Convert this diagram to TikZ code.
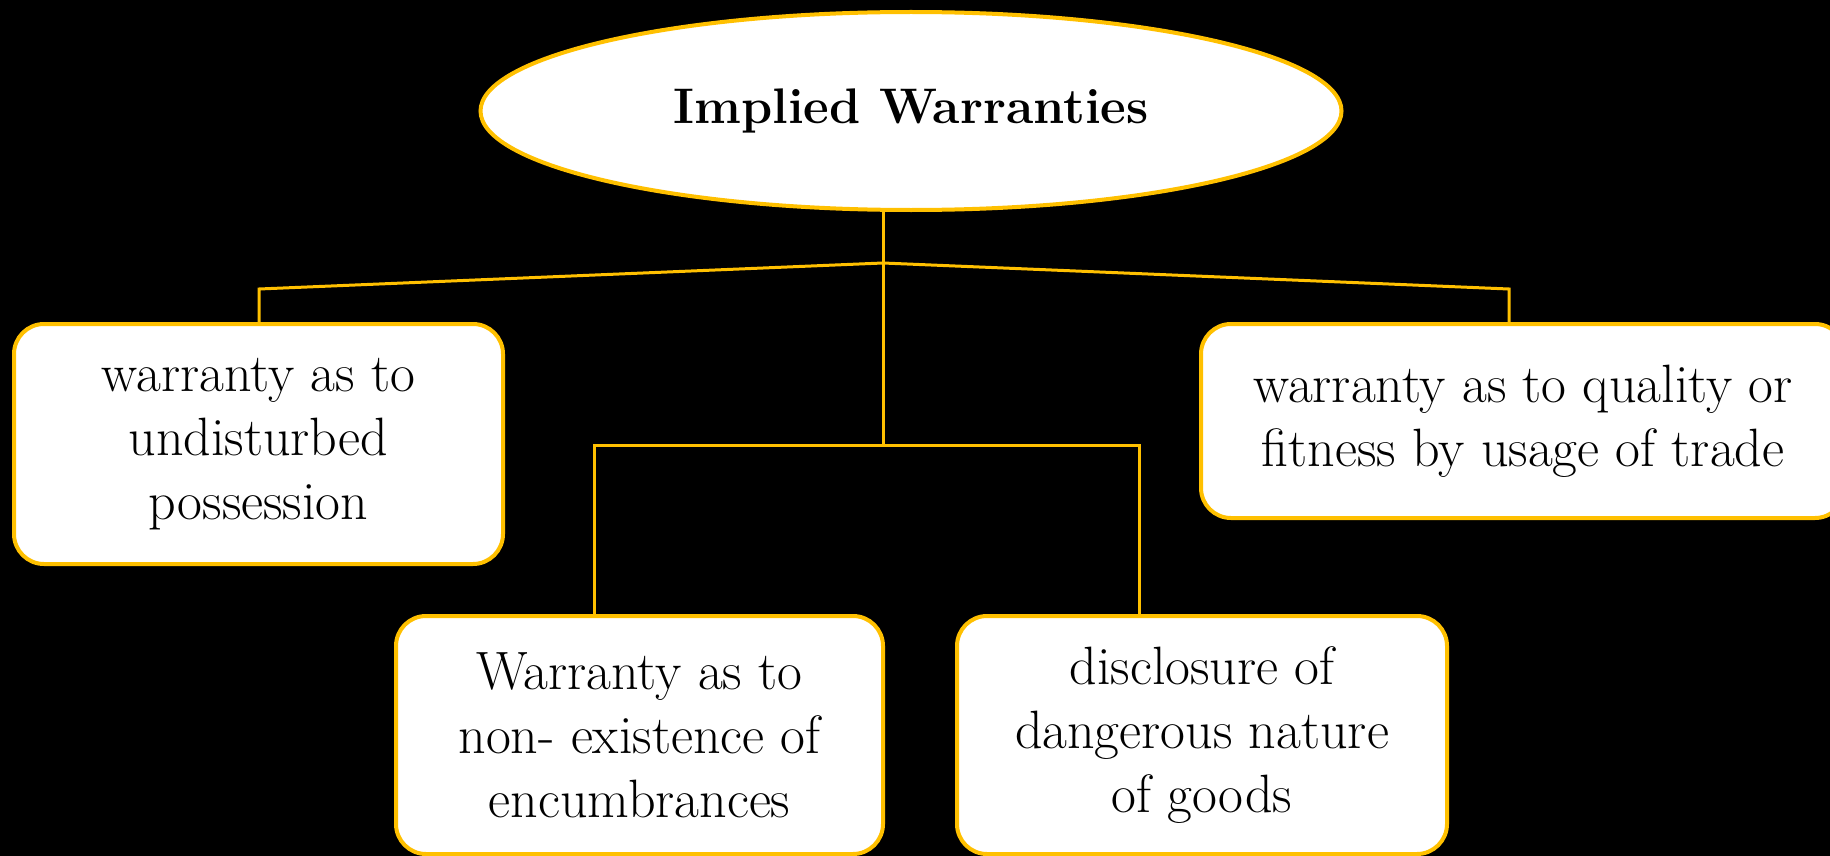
\documentclass[tikz,border=0pt]{standalone}
\usepackage{tikz}
\usepackage{xcolor}
\usetikzlibrary{shapes.geometric}
\definecolor{gold}{HTML}{FFC000}
\tikzset{
    warranty-box/.style = {draw=gold, fill=white, line width=4pt, rectangle, rounded corners=30pt, align=center, inner sep=0pt, font=\fontsize{54}{64}\selectfont},
    title-ellipse/.style = {draw=gold, fill=white, line width=4pt, ellipse, inner sep=0pt, minimum width=861pt, minimum height=198pt, font=\fontsize{50}{60}\selectfont\bfseries},
    branch/.style = {draw=gold, line width=3pt},
}

\begin{document}
\begin{tikzpicture}[x=1pt,y=-1pt]
\fill[black] (0,0) rectangle (1830,856);
\useasboundingbox (0,0) rectangle (1830,856);
\clip (0,0) rectangle (1830,856);

\node[title-ellipse] (implied) at (911,111) {Implied Warranties};
\node[warranty-box, minimum width=489pt, minimum height=240pt] (possession) at (258.5,444) {warranty as to\\undisturbed\\possession};
\node[warranty-box, minimum width=644pt, minimum height=194pt] (quality) at (1523,421) {warranty as to quality or\\fitness by usage of trade};
\node[warranty-box, minimum width=487pt, minimum height=238pt] (encumbrances) at (639.5,735) {Warranty as to\\non- existence of\\encumbrances};
\node[warranty-box, minimum width=490pt, minimum height=238pt] (dangerous) at (1202,735) {disclosure of\\dangerous nature\\of goods};

\coordinate (top-fork) at (883,263);
\coordinate (low-fork) at (883,445);
\coordinate (left-end) at (259,289);
\coordinate (right-end) at (1509,289);
\coordinate (mid-left) at (594,445);
\coordinate (mid-right) at (1139,445);

\draw[branch] (implied.south -| top-fork) -- (low-fork);
\draw[branch] (top-fork) -- (left-end) -- (left-end |- possession.north);
\draw[branch] (top-fork) -- (right-end) -- (right-end |- quality.north);
\draw[branch] (mid-left |- encumbrances.north) -- (mid-left) -- (mid-right) -- (mid-right |- dangerous.north);
\end{tikzpicture}
\end{document}
